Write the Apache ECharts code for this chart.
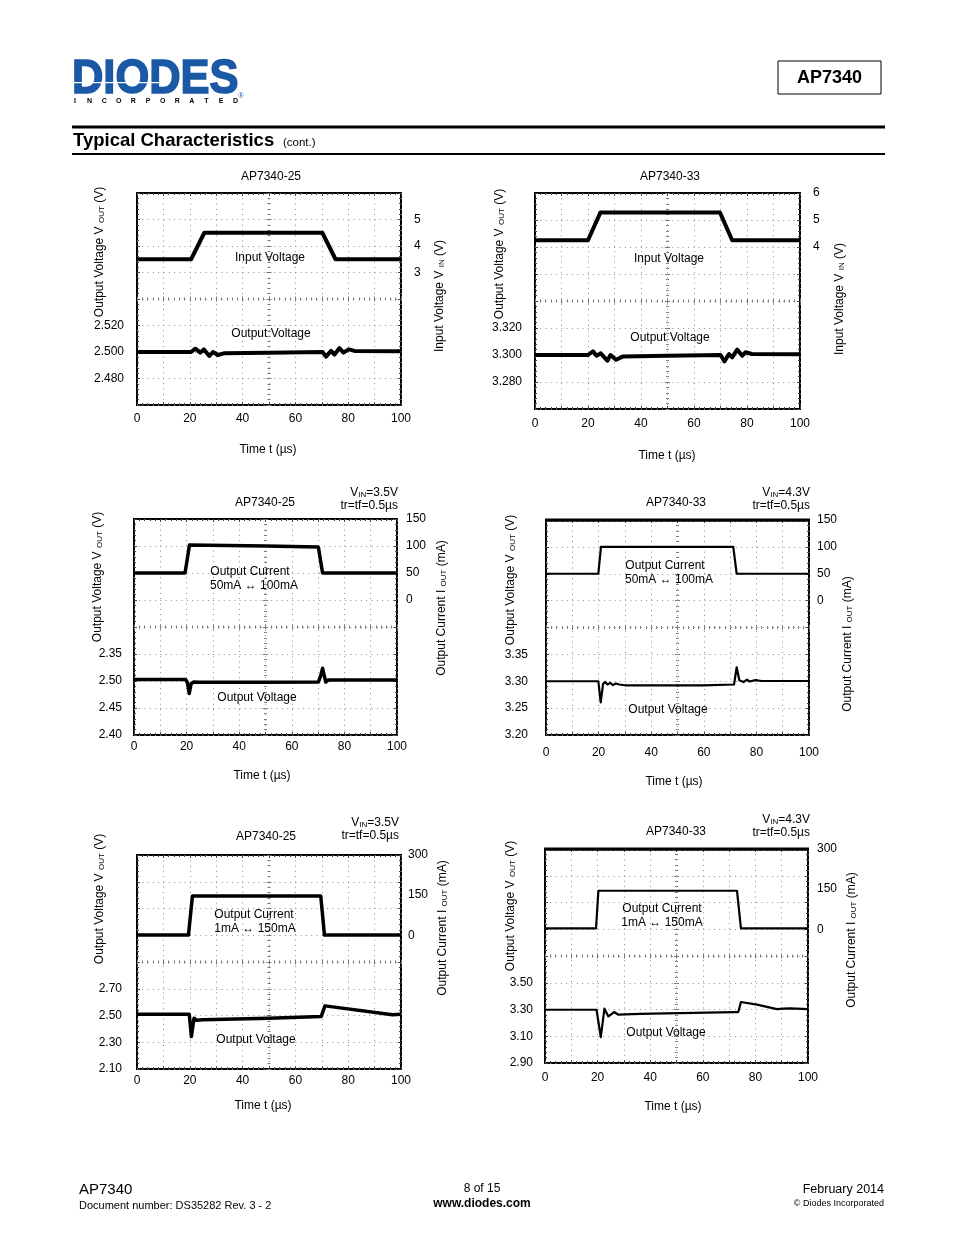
<!DOCTYPE html>
<html><head><meta charset="utf-8">
<script src="https://cdn.jsdelivr.net/npm/echarts@6/dist/echarts.min.js"></script>
<style>html,body{margin:0;padding:0;background:#fff}#c{width:954px;height:1235px}</style>
</head><body><div id="c"></div>
<script>
// ---------- DATA ----------
const timeTicks = [0, 20, 40, 60, 80, 100];

// Chart 1: AP7340-25 line transient
const c1InT  = [0, 20.5, 25.5, 70.2, 75.2, 100];
const c1InV  = [3.5, 3.5, 4.5, 4.5, 3.5, 3.5];
const c1OutT = [0, 20.5, 22.1, 24.0, 25.3, 27.4, 28.8, 30.6, 32.9, 50, 70.3, 71.6, 73.5, 74.8, 76.7, 78.2, 80.2, 82.4, 100];
const c1OutV = [2.500, 2.500, 2.5025, 2.4995, 2.502, 2.497, 2.500, 2.4977, 2.499, 2.4995, 2.500, 2.4965, 2.5008, 2.498, 2.503, 2.4995, 2.502, 2.5008, 2.5005];
const c1LeftTicks = [2.48, 2.50, 2.52];  const c1LeftText = ['2.480', '2.500', '2.520'];
const c1RightTicks = [3, 4, 5];          const c1RightText = ['3', '4', '5'];

// Chart 2: AP7340-33 line transient
const c2InT  = [0, 20, 24.7, 69.8, 74.4, 100];
const c2InV  = [4.25, 4.25, 5.28, 5.28, 4.25, 4.25];
const c2OutT = [0, 20, 21.9, 23.2, 24.8, 27.3, 28.5, 30.6, 33.1, 50, 70, 71.5, 73.2, 74.4, 76.3, 78.2, 79.4, 81.9, 100];
const c2OutV = [3.300, 3.300, 3.3027, 3.2995, 3.3012, 3.2958, 3.300, 3.2965, 3.2988, 3.2995, 3.300, 3.2953, 3.3007, 3.2983, 3.304, 3.2995, 3.302, 3.3007, 3.3005];
const c2LeftTicks = [3.28, 3.30, 3.32];  const c2LeftText = ['3.280', '3.300', '3.320'];
const c2RightTicks = [4, 5, 6];          const c2RightText = ['4', '5', '6'];

// Chart 3: AP7340-25 load transient 50mA <-> 100mA
const c3CurT = [0, 19.4, 21.1, 50, 70.1, 71.7, 100];
const c3CurV = [50, 50, 102, 100, 98, 50, 50];
const c3OutT = [0, 19.6, 20.3, 21.0, 21.7, 22.6, 25, 50, 70.1, 71.0, 71.7, 72.9, 73.9, 100];
const c3OutV = [2.503, 2.503, 2.497, 2.477, 2.495, 2.498, 2.4976, 2.4978, 2.498, 2.510, 2.5235, 2.498, 2.502, 2.502];
const c3LeftTicks = [2.40, 2.45, 2.50, 2.55];  const c3LeftText = ['2.40', '2.45', '2.50', '2.35'];
const c3RightTicks = [0, 50, 100, 150];        const c3RightText = ['0', '50', '100', '150'];

// Chart 4: AP7340-33 load transient 50mA <-> 100mA
const c4CurT = [0, 19.9, 20.9, 71.2, 72.5, 100];
const c4CurV = [50, 50, 100, 100, 50, 50];
const c4OutT = [0, 19.9, 20.8, 21.7, 22.5, 23.4, 24.4, 25.4, 26.6, 27.8, 30, 60, 71.5, 72.5, 73.5, 75.1, 76.4, 77.4, 79.6, 82, 100];
const c4OutV = [3.300, 3.300, 3.2606, 3.295, 3.2988, 3.294, 3.297, 3.293, 3.2958, 3.294, 3.2925, 3.2925, 3.294, 3.326, 3.302, 3.2985, 3.303, 3.2995, 3.302, 3.3005, 3.3005];
const c4LeftTicks = [3.20, 3.25, 3.30, 3.35];  const c4LeftText = ['3.20', '3.25', '3.30', '3.35'];
const c4RightTicks = [0, 50, 100, 150];        const c4RightText = ['0', '50', '100', '150'];

// Chart 5: AP7340-25 load transient 1mA <-> 150mA
const c5CurT = [0, 19.5, 21.0, 50, 69.6, 71.0, 100];
const c5CurV = [1, 1, 147, 147, 147, 1, 1];
const c5OutT = [0, 19.8, 20.6, 21.6, 22.5, 25, 50, 69.8, 71.2, 96.8, 100];
const c5OutV = [2.51, 2.51, 2.343, 2.48, 2.464, 2.468, 2.48, 2.493, 2.572, 2.505, 2.51];
const c5LeftTicks = [2.10, 2.30, 2.50, 2.70];  const c5LeftText = ['2.10', '2.30', '2.50', '2.70'];
const c5RightTicks = [0, 150, 300];            const c5RightText = ['0', '150', '300'];

// Chart 6: AP7340-33 load transient 1mA <-> 150mA
const c6CurT = [0, 19.4, 20.3, 73.0, 74.5, 100];
const c6CurV = [3, 3, 144, 144, 3, 3];
const c6OutT = [0, 19.6, 21.2, 22.6, 24.1, 26.3, 27.9, 36, 71.6, 73.5, 74.5, 80.6, 88.2, 90.7, 93.2, 100];
const c6OutV = [3.298, 3.298, 3.094, 3.306, 3.248, 3.281, 3.261, 3.268, 3.281, 3.281, 3.356, 3.336, 3.303, 3.306, 3.308, 3.303];
const c6LeftTicks = [2.90, 3.10, 3.30, 3.50];  const c6LeftText = ['2.90', '3.10', '3.30', '3.50'];
const c6RightTicks = [0, 150, 300];            const c6RightText = ['0', '150', '300'];

// ---------- LAYOUT ----------
const FONT = '"Liberation Sans", Arial, Helvetica, sans-serif';
const NAME_L = 'Output Voltage V {s|OUT} (V)';
const NAME_VIN = 'Input Voltage V {s|IN} (V)';
const NAME_IOUT = 'Output Current I {s|OUT} (mA)';

const panels = [
  { title:'AP7340-25', aT:c1InT, aV:c1InV, bT:c1OutT, bV:c1OutV, lt:c1LeftTicks, ltx:c1LeftText, rt:c1RightTicks, rtx:c1RightText,
    box:[137,193,264,212], left:[2.46,2.62], right:[-2,6], lw:4, xm:8, lm:13, rm:13, topB:false,
    tpos:[271,177], corner:null, lname:[100,252], rname:[440,296,NAME_VIN], tname:[268,450],
    notes:[['Input Voltage',270,258],['Output Voltage',271,334]] },
  { title:'AP7340-33', aT:c2InT, aV:c2InV, bT:c2OutT, bV:c2OutV, lt:c2LeftTicks, ltx:c2LeftText, rt:c2RightTicks, rtx:c2RightText,
    box:[535,193,265,216], left:[3.26,3.42], right:[-2,6], lw:4, xm:9, lm:13, rm:13, topB:false,
    tpos:[670,177], corner:null, lname:[500,254], rname:[840,299,NAME_VIN], tname:[667,456],
    notes:[['Input Voltage',669,259],['Output Voltage',670,338]] },
  { title:'AP7340-25', aT:c3CurT, aV:c3CurV, bT:c3OutT, bV:c3OutV, lt:c3LeftTicks, ltx:c3LeftText, rt:c3RightTicks, rtx:c3RightText,
    box:[134,519,263,216], left:[2.40,2.80], right:[-250,150], lw:3.5, xm:6, lm:12, rm:9, topB:false,
    tpos:[265,503], corner:[398,493,'3.5V'], lname:[98,577], rname:[442,608,NAME_IOUT], tname:[262,776],
    notes:[['Output Current',250,572],['50mA \u2194 100mA',254,586],['Output Voltage',257,698]] },
  { title:'AP7340-33', aT:c4CurT, aV:c4CurV, bT:c4OutT, bV:c4OutV, lt:c4LeftTicks, ltx:c4LeftText, rt:c4RightTicks, rtx:c4RightText,
    box:[546,520,263,215], left:[3.20,3.60], right:[-250,150], lw:2.2, xm:12, lm:18, rm:8, topB:true,
    tpos:[676,503], corner:[810,493,'4.3V'], lname:[511,580], rname:[848,644,NAME_IOUT], tname:[674,782],
    notes:[['Output Current',665,566],['50mA \u2194 100mA',669,580],['Output Voltage',668,710]] },
  { title:'AP7340-25', aT:c5CurT, aV:c5CurV, bT:c5OutT, bV:c5OutV, lt:c5LeftTicks, ltx:c5LeftText, rt:c5RightTicks, rtx:c5RightText,
    box:[137,855,264,214], left:[2.10,3.70], right:[-500,300], lw:3.5, xm:6, lm:15, rm:7, topB:false,
    tpos:[266,837], corner:[399,823,'3.5V'], lname:[100,899], rname:[443,928,NAME_IOUT], tname:[263,1106],
    notes:[['Output Current',254,915],['1mA \u2194 150mA',255,929],['Output Voltage',256,1040]] },
  { title:'AP7340-33', aT:c6CurT, aV:c6CurV, bT:c6OutT, bV:c6OutV, lt:c6LeftTicks, ltx:c6LeftText, rt:c6RightTicks, rtx:c6RightText,
    box:[545,849,263,214], left:[2.90,4.50], right:[-500,300], lw:2.2, xm:9, lm:12, rm:9, topB:true,
    tpos:[676,832], corner:[810,820,'4.3V'], lname:[511,906], rname:[852,940,NAME_IOUT], tname:[673,1107],
    notes:[['Output Current',662,909],['1mA \u2194 150mA',662,923],['Output Voltage',666,1033]] }
];

const RICH = { s: { fontSize: 8, fontFamily: FONT, fill: '#000', verticalAlign: 'bottom' } };
function T(text, x, y, o) {
  o = o || {};
  const al = o.align || 'center';
  return { type:'text', x:x, y:y, rotation:o.rot || 0, silent:true, z:10,
    style:{ text:text, fill:o.fill || '#000', fontSize:o.fs || 12, fontFamily:o.ff || FONT, fontWeight:o.fw || 'normal',
      align:al, verticalAlign:'middle', textAlign:al, textVerticalAlign:'middle', rich:o.rich,
      stroke:o.stroke, lineWidth:o.slw || 0 },
    scaleX:o.sx || 1 };
}
function lab(v, vals, txt) {
  for (let k = 0; k < vals.length; k++) if (Math.abs(vals[k] - v) < 1e-6) return txt[k];
  return '';
}
function zip(a, b) { return a.map((t, k) => [t, b[k]]); }

const grid = [], xAxis = [], yAxis = [], series = [], graphic = [];
const DOT = { color:'#8c8c8c', type:[1, 4.28], width:1 };
const TK = { color:'#444', width:1 };
const CK = { color:'#777', width:1 };

panels.forEach((p, i) => {
  const [L, Tp, Wd, Ht] = p.box;
  grid.push({ left:L, top:Tp, width:Wd, height:Ht, show:true, borderColor:'#000', borderWidth:2, backgroundColor:'transparent', containLabel:false });
  const xi = xAxis.length, yi = yAxis.length;
  const axisLbl = { fontSize:12, color:'#000', fontFamily:FONT };
  // main time axis (labels, vertical graticule, bottom-edge ticks)
  xAxis.push({ type:'value', gridIndex:i, min:0, max:100, interval:10, position:'bottom',
    axisLine:{ show:false, onZero:false }, axisTick:{ show:true, inside:true, length:3, lineStyle:TK },
    minorTick:{ show:true, splitNumber:5, length:2, lineStyle:TK },
    splitLine:{ show:true, lineStyle:DOT },
    axisLabel:Object.assign({ customValues:timeTicks, margin:p.xm, formatter:v => String(Math.round(v)) }, axisLbl) });
  // top-edge ticks
  xAxis.push({ type:'value', gridIndex:i, min:0, max:100, interval:10, position:'top',
    axisLine:{ show:false, onZero:false }, axisLabel:{ show:false }, splitLine:{ show:false },
    axisTick:{ show:true, inside:true, length:3, lineStyle:TK }, minorTick:{ show:true, splitNumber:5, length:2, lineStyle:TK } });
  // centre horizontal line ticks (both sides)
  [true, false].forEach(ins => xAxis.push({ type:'value', gridIndex:i, min:0, max:100, interval:10, position:'bottom', offset:-Ht / 2,
    axisLine:{ show:false, onZero:false }, axisLabel:{ show:false }, splitLine:{ show:false },
    axisTick:{ show:true, inside:ins, length:2.5, lineStyle:CK }, minorTick:{ show:true, splitNumber:5, length:1.5, lineStyle:CK } }));

  // left data axis (output voltage)
  yAxis.push({ type:'value', gridIndex:i, min:p.left[0], max:p.left[1], position:'left',
    axisLine:{ show:false, onZero:false }, axisTick:{ show:false }, splitLine:{ show:false },
    axisLabel:Object.assign({ customValues:p.lt, margin:p.lm, formatter:v => lab(v, p.lt, p.ltx) }, axisLbl) });
  // right data axis
  yAxis.push({ type:'value', gridIndex:i, min:p.right[0], max:p.right[1], position:'right',
    axisLine:{ show:false, onZero:false }, axisTick:{ show:false }, splitLine:{ show:false },
    axisLabel:Object.assign({ customValues:p.rt, margin:p.rm, formatter:v => lab(v, p.rt, p.rtx) }, axisLbl) });
  // division axis: horizontal graticule + left-edge ticks
  yAxis.push({ type:'value', gridIndex:i, min:0, max:8, interval:1, position:'left',
    axisLine:{ show:false, onZero:false }, axisLabel:{ show:false }, splitLine:{ show:true, lineStyle:DOT },
    axisTick:{ show:true, inside:true, length:3, lineStyle:TK }, minorTick:{ show:true, splitNumber:5, length:2, lineStyle:TK } });
  // right-edge ticks
  yAxis.push({ type:'value', gridIndex:i, min:0, max:8, interval:1, position:'right',
    axisLine:{ show:false, onZero:false }, axisLabel:{ show:false }, splitLine:{ show:false },
    axisTick:{ show:true, inside:true, length:3, lineStyle:TK }, minorTick:{ show:true, splitNumber:5, length:2, lineStyle:TK } });
  // centre vertical line ticks
  [true, false].forEach(ins => yAxis.push({ type:'value', gridIndex:i, min:0, max:8, interval:1, position:'left', offset:-Wd / 2,
    axisLine:{ show:false, onZero:false }, axisLabel:{ show:false }, splitLine:{ show:false },
    axisTick:{ show:true, inside:ins, length:2.5, lineStyle:CK }, minorTick:{ show:true, splitNumber:5, length:1.5, lineStyle:CK } }));

  series.push({ type:'line', xAxisIndex:xi, yAxisIndex:yi + 1, data:zip(p.aT, p.aV), showSymbol:false, symbol:'none',
    lineStyle:{ color:'#000', width:p.lw, join:'round' }, silent:true, z:5 });
  series.push({ type:'line', xAxisIndex:xi, yAxisIndex:yi, data:zip(p.bT, p.bV), showSymbol:false, symbol:'none',
    lineStyle:{ color:'#000', width:p.lw, join:'round' }, silent:true, z:5 });

  if (p.topB) graphic.push({ type:'rect', shape:{ x:L - 1, y:Tp - 1.5, width:Wd + 2, height:3.2 }, style:{ fill:'#000' }, z:9, silent:true });

  // texts
  graphic.push(T(p.title, p.tpos[0], p.tpos[1]));
  if (p.corner) {
    graphic.push(T('V{s|IN}=' + p.corner[2], p.corner[0], p.corner[1], { align:'right', rich:RICH }));
    graphic.push(T('tr=tf=0.5\u00b5s', p.corner[0], p.corner[1] + 13, { align:'right' }));
  }
  graphic.push(T(NAME_L, p.lname[0], p.lname[1], { rot:Math.PI / 2, rich:RICH }));
  graphic.push(T(p.rname[2], p.rname[0], p.rname[1], { rot:Math.PI / 2, rich:RICH }));
  graphic.push(T('Time t (\u00b5s)', p.tname[0], p.tname[1]));
  p.notes.forEach(n => graphic.push(T(n[0], n[1], n[2])));
});

// ---------- page header / footer ----------
const BLUE = '#1b58a5';
graphic.push(T('DIODES', 72, 80, { align:'left', fs:48, fw:'bold', fill:BLUE, stroke:BLUE, slw:1.6, sx:0.905 }));
graphic.push({ type:'rect', shape:{ x:74, y:82, width:92, height:1.3 }, style:{ fill:'#fff' }, z:11, silent:true });
graphic.push(T('\u00ae', 241, 96, { fs:7, fill:BLUE, align:'center' }));
'INCORPORATED'.split('').forEach((c, k) => graphic.push(T(c, 75 + k * 14.6, 101.5, { fs:7, fw:'bold' })));
graphic.push({ type:'rect', shape:{ x:778, y:61, width:103, height:33 }, style:{ fill:'none', stroke:'#000', lineWidth:1 }, z:10, silent:true });
graphic.push(T('AP7340', 829.5, 78, { fs:18, fw:'bold' }));
graphic.push({ type:'rect', shape:{ x:72, y:125.5, width:813, height:3 }, style:{ fill:'#000' }, z:10, silent:true });
graphic.push({ type:'rect', shape:{ x:72, y:153, width:813, height:2 }, style:{ fill:'#000' }, z:10, silent:true });
graphic.push(T('Typical Characteristics', 73, 141, { align:'left', fs:18.5, fw:'bold' }));
graphic.push(T('(cont.)', 283, 143, { align:'left', fs:11.5 }));

graphic.push(T('AP7340', 79, 1190, { align:'left', fs:15 }));
graphic.push(T('Document number: DS35282 Rev. 3 - 2', 79, 1206, { align:'left', fs:11 }));
graphic.push(T('8 of 15', 482, 1189, { fs:12 }));
graphic.push(T('www.diodes.com', 482, 1203.5, { fs:12, fw:'bold' }));
graphic.push(T('February 2014', 884, 1190, { align:'right', fs:12.5 }));
graphic.push(T('\u00a9 Diodes Incorporated', 884, 1204, { align:'right', fs:9 }));

const chart = echarts.init(document.getElementById('c'), null, { renderer:'canvas' });
chart.setOption({ animation:false, backgroundColor:'#fff', grid, xAxis, yAxis, series, graphic });
</script></body></html>
